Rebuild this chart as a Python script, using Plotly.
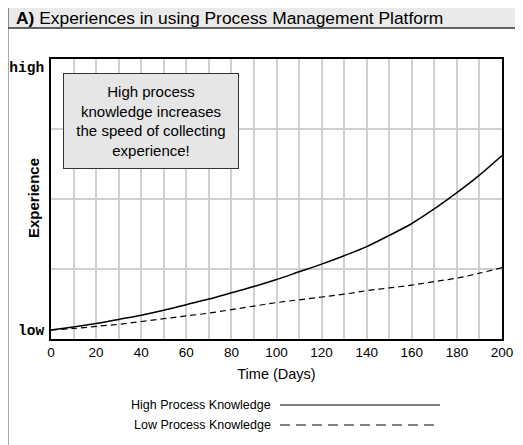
import plotly.graph_objects as go

W, H = 523, 445
OFF = 8  # page body margin shifts the figure by 8px right and down

days = [0, 10, 20, 30, 40, 50, 60, 70, 80, 90, 100,
        110, 120, 130, 140, 150, 160, 170, 180, 190, 200]
high_knowledge = [0.13, 0.17, 0.22, 0.28, 0.34, 0.41, 0.49, 0.57, 0.66, 0.75, 0.85,
                  0.96, 1.07, 1.19, 1.32, 1.48, 1.65, 1.86, 2.09, 2.34, 2.62]
low_knowledge = [0.13, 0.15, 0.18, 0.21, 0.25, 0.29, 0.33, 0.37, 0.42, 0.47, 0.52,
                 0.56, 0.60, 0.64, 0.69, 0.73, 0.77, 0.82, 0.87, 0.94, 1.02]
y_tick_vals = [0.13, 3.88]
y_tick_text = ["low", "high"]
series_names = ["High Process Knowledge", "Low Process Knowledge"]

# plot area in screen pixels: x 51..502, y 59..339
ML, MR, MT, MB = 51 - OFF, W - 502 + OFF, 59 - OFF, H - 339 + OFF
PW, PH = W - ML - MR, H - MT - MB


# screen pixel -> paper coordinates (paper is the plot area)
def px_x(p):
    return (p - OFF - ML) / PW


def px_y(p):
    return (H - MB - (p - OFF)) / PH


fig = go.Figure()
fig.add_trace(go.Scatter(x=days, y=high_knowledge, mode="lines", name=series_names[0],
                         line=dict(color="black", width=1.5, shape="spline")))
fig.add_trace(go.Scatter(x=days, y=low_knowledge, mode="lines", name=series_names[1],
                         line=dict(color="black", width=1.2, dash="6px,4px", shape="spline")))

fig.update_layout(
    width=W, height=H,
    margin=dict(l=ML, r=MR, t=MT, b=MB, autoexpand=False),
    paper_bgcolor="white", plot_bgcolor="white",
    showlegend=False,
    font=dict(family="Liberation Sans, Arial", color="black", size=13),
)
fig.update_xaxes(
    range=[0, 200], tick0=0, dtick=20, showgrid=True, gridcolor="#d0d0d0", gridwidth=1.5,
    minor=dict(dtick=10, showgrid=True, gridcolor="#d0d0d0", gridwidth=1.5),
    showline=True, linecolor="black", linewidth=2, mirror=True,
    ticks="", zeroline=False, automargin=False, tickfont=dict(size=13.5),
    title=dict(text="Time (Days)", font=dict(size=14.5), standoff=10),
)
fig.update_yaxes(
    range=[0, 4], tickvals=y_tick_vals, ticktext=y_tick_text, showgrid=False,
    tickfont=dict(family="Liberation Mono, Courier New", size=14.5, weight="bold"),
    minor=dict(tick0=0, dtick=1, showgrid=True, gridcolor="#d0d0d0", gridwidth=1.5),
    showline=True, linecolor="black", linewidth=2, mirror=True,
    ticks="", zeroline=False, ticklabelstandoff=2, automargin=False,
)

shapes = [
    # title band
    dict(type="rect", xref="paper", yref="paper", x0=px_x(7.5), x1=px_x(540),
         y0=px_y(7), y1=px_y(28), fillcolor="#eaeaea",
         line=dict(color="#333333", width=1.5), layer="below"),
    # outer frame left edge
    dict(type="line", xref="paper", yref="paper", x0=px_x(7.5), x1=px_x(7.5),
         y0=px_y(7), y1=px_y(460), line=dict(color="#555555", width=2)),
    # legend samples
    dict(type="line", xref="paper", yref="paper", x0=px_x(280), x1=px_x(440),
         y0=px_y(405), y1=px_y(405), line=dict(color="black", width=1.2)),
    dict(type="line", xref="paper", yref="paper", x0=px_x(280), x1=px_x(440),
         y0=px_y(425), y1=px_y(425), line=dict(color="black", width=1.2, dash="10px,6px")),
]
fig.update_layout(shapes=shapes)

annotations = [
    dict(text="<b>A)</b> Experiences in using Process Management Platform",
         xref="paper", yref="paper", x=px_x(14), y=px_y(17.5), xanchor="left", yanchor="middle",
         showarrow=False, font=dict(size=17.4)),
    dict(text="<b>Experience</b>", textangle=-90,
         xref="paper", yref="paper", x=px_x(33), y=px_y(198), xanchor="center", yanchor="middle",
         showarrow=False, font=dict(size=15)),
    dict(text="High process<br>knowledge increases<br>the speed of collecting<br>experience!",
         xref="paper", yref="paper", x=px_x(151), y=px_y(121), xanchor="center", yanchor="middle",
         showarrow=False, font=dict(size=15), align="center",
         bgcolor="#e6e6e6", bordercolor="#333333", borderwidth=1, borderpad=5,
         width=164, height=84),
    dict(text=series_names[0], xref="paper", yref="paper", x=px_x(273), y=px_y(405),
         xanchor="right", yanchor="middle", showarrow=False, font=dict(size=12.5)),
    dict(text=series_names[1], xref="paper", yref="paper", x=px_x(273), y=px_y(425),
         xanchor="right", yanchor="middle", showarrow=False, font=dict(size=12.5)),
]
fig.update_layout(annotations=annotations)

fig.write_html("out.html")
